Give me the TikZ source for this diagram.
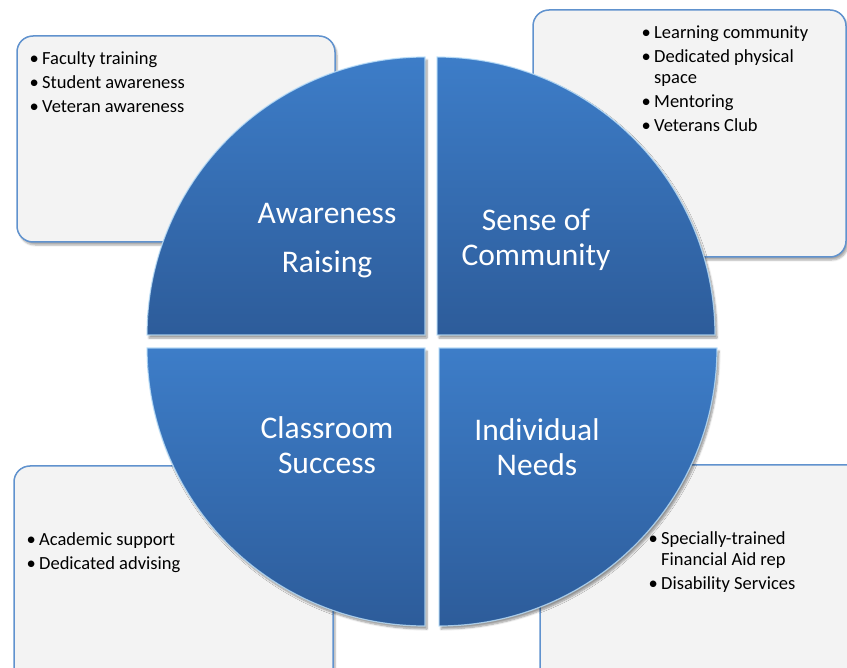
\documentclass[tikz,border=0pt]{standalone}
\usepackage{fontspec}
\setmainfont{Carlito}
\usetikzlibrary{shadows.blur}

\definecolor{quadtop}{RGB}{61,125,200}
\definecolor{quadbot}{RGB}{45,92,154}
\definecolor{quadedge}{RGB}{190,225,250}
\definecolor{boxfill}{RGB}{243,243,243}
\definecolor{boxline}{RGB}{96,146,206}

\newcommand{\bul}{\makebox[12.5pt][l]{\textbullet}}

\begin{document}
\begin{tikzpicture}[x=1pt,y=-1pt,
  quad/.style={top color=quadtop,bottom color=quadbot,draw=quadedge,draw opacity=0.8,line width=1.2pt,
    blur shadow={shadow xshift=2pt,shadow yshift=-3pt,shadow blur steps=6,shadow opacity=40}},
  infobox/.style={fill=boxfill,draw=boxline,line width=1.5pt,rounded corners=16pt,
    blur shadow={shadow xshift=2pt,shadow yshift=-3pt,shadow blur steps=5,shadow opacity=35}},
  quadlabel/.style={text=white,align=center,font=\fontsize{31.5}{35}\selectfont},
  bullets/.style={anchor=base west,inner sep=0pt,font=\fontsize{18.5}{21}\selectfont}]
  % Page frame
  \useasboundingbox (0,0) rectangle (847,668);
  \clip (0,0) rectangle (847,668);

  % Corner boxes (behind the circle)
  \draw[infobox] (17,36) rectangle (335,242);
  \draw[infobox] (533,10) rectangle (846,257);
  \draw[infobox] (14,466) rectangle (333,690);
  \draw[infobox] (540,465) rectangle (870,690);

  % Four quarters of the circle
  \draw[quad] (425,335) -- ++(-278,0) arc[start angle=180,end angle=270,radius=278] -- cycle;
  \draw[quad] (437,335) -- ++(0,-278) arc[start angle=270,end angle=360,radius=278] -- cycle;
  \draw[quad] (425,348) -- ++(-278,0) arc[start angle=180,end angle=90,radius=278] -- cycle;
  \draw[quad] (439,348) -- ++(278,0) arc[start angle=0,end angle=90,radius=278] -- cycle;

  % Quarter labels
  \node[quadlabel] (aware) at (327,240.5) {Awareness\\[14pt]Raising};
  \node[quadlabel] (community) at (536,239.5) {Sense of\\Community};
  \node[quadlabel] (classroom) at (327,445.5) {Classroom\\Success};
  \node[quadlabel] (needs) at (537,447.5) {Individual\\Needs};

  % Bullet lists
  \node[bullets] (awarelist) at (29.5,65) {\begin{tabular}[t]{@{}l@{}l@{}}
    \bul&Faculty training\\[3pt]
    \bul&Student awareness\\[3pt]
    \bul&Veteran awareness
  \end{tabular}};
  \node[bullets] (communitylist) at (641.5,38.5) {\begin{tabular}[t]{@{}l@{}l@{}}
    \bul&Learning community\\[3pt]
    \bul&Dedicated physical\\
    &space\\[3pt]
    \bul&Mentoring\\[3pt]
    \bul&Veterans Club
  \end{tabular}};
  \node[bullets] (classroomlist) at (26.5,545.5) {\begin{tabular}[t]{@{}l@{}l@{}}
    \bul&Academic support\\[3pt]
    \bul&Dedicated advising
  \end{tabular}};
  \node[bullets] (needslist) at (648.5,544.5) {\begin{tabular}[t]{@{}l@{}l@{}}
    \bul&Specially-trained\\
    &Financial Aid rep\\[3pt]
    \bul&Disability Services
  \end{tabular}};
\end{tikzpicture}
\end{document}
